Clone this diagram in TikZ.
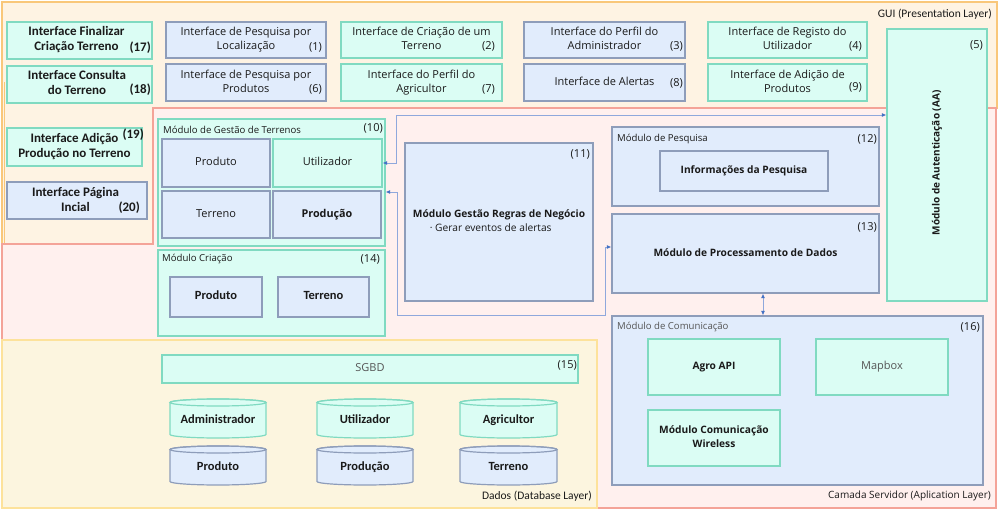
\documentclass[tikz,border=0pt]{standalone}
\usepackage{fontspec}
\setmainfont{Open Sans}
\newfontfamily\calfont{Carlito}
\usepackage{graphicx}
\usetikzlibrary{arrows.meta}

\definecolor{guiF}{HTML}{FEF3E3}
\definecolor{guiD}{HTML}{F9C77A}
\definecolor{srvF}{HTML}{FFF0EE}
\definecolor{srvD}{HTML}{F4A398}
\definecolor{dbF}{HTML}{FCF5DF}
\definecolor{dbD}{HTML}{FDE29B}
\definecolor{grF}{HTML}{DBFDF4}
\definecolor{grD}{HTML}{80DAC1}
\definecolor{blF}{HTML}{E1ECFC}
\definecolor{blD}{HTML}{8E9DBA}
\definecolor{lnC}{HTML}{8FA8DC}
\definecolor{arC}{HTML}{4472C4}
\definecolor{txt}{HTML}{1A1A1A}
\definecolor{gry}{HTML}{555555}

\tikzset{
  gbx/.style={draw=grD, fill=grF, line width=1.2pt, inner sep=0pt, text=txt, font=\fontsize{11}{14}\selectfont},
  bbx/.style={draw=blD, fill=blF, line width=1.2pt, inner sep=0pt, text=txt, font=\fontsize{11}{14}\selectfont},
  bfnt/.style={font=\calfont\bfseries\fontsize{13}{15}\selectfont},
  semi/.style={font=\bfseries\fontsize{10.2}{14}\selectfont},
  cfnt/.style={font=\calfont\bfseries\fontsize{12.5}{14}\selectfont},
  num/.style={font=\fontsize{11}{13}\selectfont, text=txt, inner sep=0pt, anchor=east},
  bnum/.style={font=\calfont\bfseries\fontsize{13}{15}\selectfont, text=txt, inner sep=0pt, anchor=east},
  hdr/.style={font=\fontsize{9.6}{12}\selectfont, text=txt, inner sep=0pt, anchor=west},
  lay/.style={inner sep=0pt, anchor=east, text=txt},
  conn/.style={draw=lnC, line width=1pt, {Latex[length=4.5pt,width=4pt,color=arC]}-{Latex[length=4.5pt,width=4pt,color=arC]}},
}

% name, x1, y1, x2, y2, style, text
\newcommand\bx[7]{\node[#6, anchor=center, minimum width={(#4-#2)*1pt}, minimum height={(#5-#3)*1pt}]
  (#1) at ({(#2+#4)/2},{(#3+#5)/2}) {\begin{tabular}{@{}c@{}}#7\end{tabular}};}
\newcommand\cyl[8]{%
  \filldraw[fill=#6, draw=#7, line width=1.2pt]
    ({#2},{#3+3.5}) -- ({#2},{#5-3.5})
    arc[start angle=180, end angle=0, x radius={(#4-#2)/2}, y radius=3.5]
    -- ({#4},{#3+3.5})
    arc[start angle=0, end angle=-180, x radius={(#4-#2)/2}, y radius=3.5] -- cycle;
  \draw[draw=#7, line width=1.2pt] ({(#2+#4)/2},{#3+3.5}) ellipse[x radius={(#4-#2)/2}, y radius=3.5];
  \node[cfnt, text=txt, inner sep=0pt, anchor=center, minimum width={(#4-#2)*1pt}, minimum height={(#5-#3-4)*1pt}]
    (#1) at ({(#2+#4)/2},{(#3+4+#5)/2}) {\begin{tabular}{@{}c@{}}#8\end{tabular}};}

\begin{document}
\begin{tikzpicture}[x=1pt,y=-1pt]
\useasboundingbox (0,0) rectangle (999,511);
\fill[white] (0,0) rectangle (999,511);

% layers
\filldraw[fill=guiF, draw=guiD, line width=1.5pt] (2,2) -- (997,2) -- (997,108) -- (153,108) -- (153,244) -- (2,244) -- cycle;
\draw[guiD, line width=1.2pt] (4.5,82) -- (4.5,244);
\filldraw[fill=srvF, draw=srvD, line width=1.5pt] (153,108) -- (996,108) -- (996,508) -- (2,508) -- (2,244) -- (153,244) -- cycle;
\filldraw[fill=dbF, draw=dbD, line width=1.5pt] (2,340) rectangle (597,508);

\node[lay, font=\calfont\fontsize{11.5}{13}\selectfont] (lgui) at (992,14) {GUI (Presentation Layer)};
\node[lay, font=\fontsize{10}{12}\selectfont] (lsrv) at (991,496) {Camada Servidor (Aplication Layer)};
\node[lay, font=\calfont\fontsize{11.5}{13}\selectfont] (ldb) at (592,496) {Dados (Database Layer)};

% GUI interfaces
\bx{i17}{7}{22}{152}{59}{gbx,bfnt}{Interface Finalizar\hspace*{6pt}\\Criação Terreno\hspace*{6pt}}
\bx{i1}{166}{22}{326}{58}{bbx}{Interface de Pesquisa por\\Localização}
\bx{i2}{341}{22}{502}{58}{gbx}{Interface de Criação de um\\Terreno}
\bx{i3}{524}{22}{685}{58}{bbx}{Interface do Perfil do\\Administrador}
\bx{i4}{708}{22}{867}{58}{gbx}{Interface de Registo do\\Utilizador}
\bx{i18}{7}{66}{152}{103}{gbx,bfnt}{Interface Consulta\hspace*{5pt}\\do Terreno\hspace*{5pt}}
\bx{i6}{166}{64}{326}{101}{bbx}{Interface de Pesquisa por\\Produtos}
\bx{i7}{341}{64}{502}{101}{gbx}{Interface do Perfil do\\Agricultor}
\bx{i8}{524}{64}{685}{101}{bbx}{Interface de Alertas}
\bx{i9}{708}{64}{867}{101}{gbx}{Interface de Adição de\\Produtos}
\bx{i19}{7}{128}{142}{166}{gbx,bfnt}{Interface Adição\\Produção no Terreno}
\bx{i20}{7}{182}{147}{219}{bbx,bfnt}{Interface Página\hspace*{3pt}\\Incial\hspace*{3pt}}

\node[bnum] (n17) at (151,48) {(17)};
\node[bnum] (n18) at (151,90) {(18)};
\node[bnum] (n19) at (144,135) {(19)};
\node[bnum] (n20) at (140,208) {(20)};
\node[num] (n1) at (322,47) {(1)};
\node[num] (n6) at (322,89) {(6)};
\node[num] (n2) at (495,46) {(2)};
\node[num] (n7) at (495,89) {(7)};
\node[num] (n3) at (683,46) {(3)};
\node[num] (n8) at (683,83) {(8)};
\node[num] (n4) at (862,46) {(4)};
\node[num] (n9) at (862,87) {(9)};

% authentication
\bx{aa}{887}{29}{987}{301}{gbx}{\rotatebox{90}{\bfseries\fontsize{10}{12}\selectfont Módulo de Autenticação (AA)}}
\node[num] (n5) at (983,45) {(5)};

% modulo gestao de terrenos
\bx{m10}{158}{119}{385}{246}{gbx}{}
\node[hdr] (h10) at (163,130) {Módulo de Gestão de Terrenos};
\node[num] (n10) at (383,128) {(10)};
\bx{p10}{162}{139}{270}{187}{bbx}{Produto}
\bx{ut}{273}{139}{382}{187}{gbx}{Utilizador}
\bx{t10}{162}{191}{270}{238}{bbx}{Terreno}
\bx{pr10}{273}{191}{381}{238}{bbx,font=\bfseries\fontsize{10.8}{14}\selectfont}{Produção}

% modulo criacao
\bx{m14}{158}{250}{385}{336}{gbx}{}
\node[hdr] (h14) at (162,259) {Módulo Criação};
\node[num] (n14) at (380,259) {(14)};
\bx{p14}{170}{277}{262}{317}{bbx,cfnt}{Produto}
\bx{t14}{278}{277}{369}{317}{bbx,cfnt}{Terreno}

% regras de negocio
\node[bbx, font=\fontsize{10.2}{14}\selectfont, anchor=center, minimum width=188pt, minimum height=158pt] (m11) at (499,222)
  {\begin{tabular}{@{}l@{}}{\bfseries Módulo Gestão Regras de Negócio}\\\hspace*{17pt}· Gerar eventos de alertas\end{tabular}};
\node[num] (n11) at (590,154) {(11)};

% pesquisa
\bx{m12}{612}{127}{879}{206}{bbx}{}
\node[hdr] (h12) at (617,139) {Módulo de Pesquisa};
\node[num] (n12) at (877,139) {(12)};
\bx{info}{660}{151}{828}{191}{bbx,semi}{Informações da Pesquisa}

% processamento
\bx{m13}{612}{214}{879}{293}{bbx,semi}{Módulo de Processamento de Dados}
\node[num] (n13) at (877,227) {(13)};

% comunicacao
\bx{m16}{612}{316}{983}{485}{bbx}{}
\node[hdr, text=gry] (h16) at (617,327) {Módulo de Comunicação};
\node[num] (n16) at (980,327) {(16)};
\bx{agro}{648}{339}{780}{395}{gbx,semi}{Agro API}
\bx{mapbox}{816}{339}{948}{395}{gbx,text=gry}{Mapbox}
\bx{wl}{648}{410}{780}{466}{gbx,semi}{Módulo Comunicação\\Wireless}

% base de dados
\bx{sgbd}{162}{355}{578}{383}{gbx,text=gry}{SGBD}
\node[num] (n15) at (577,365) {(15)};
\cyl{cAd}{170}{399}{266}{438}{grF}{grD}{Administrador}
\cyl{cUt}{317}{399}{413}{438}{grF}{grD}{Utilizador}
\cyl{cAg}{460}{399}{557}{438}{grF}{grD}{Agricultor}
\cyl{cPr}{170}{446}{266}{485}{blF}{blD}{Produto}
\cyl{cPd}{317}{446}{413}{485}{blF}{blD}{Produção}
\cyl{cTe}{460}{446}{557}{485}{blF}{blD}{Terreno}

% connectors
\coordinate (jA) at (396,115);
\draw[conn] (ut.east) -| (jA) -- (aa.west |- jA);
\coordinate (jB) at (397,192);
\coordinate (jC) at (397,315);
\coordinate (jD) at (605,315);
\coordinate (jE) at (605,247);
\draw[conn] (m10.east |- jB) -- (jB) -- (jC) -- (jD) -- (jE) -- (m13.west |- jE);
\coordinate (kx) at (763,300);
\draw[conn] (m13.south -| kx) -- (m16.north -| kx);
\end{tikzpicture}
\end{document}
